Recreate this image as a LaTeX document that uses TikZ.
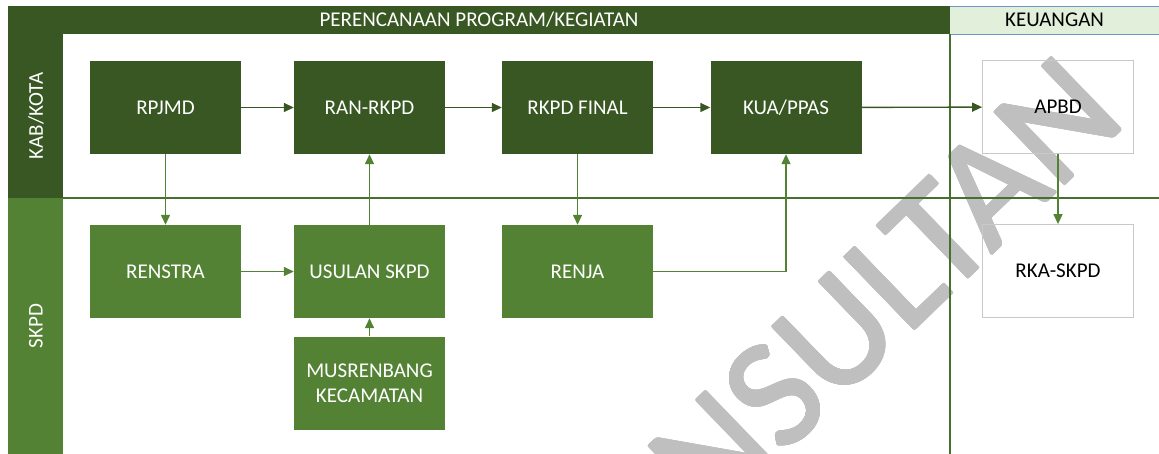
\documentclass[tikz,border=0pt]{standalone}
\usepackage{fontspec}
\setmainfont{Carlito}
\usepackage[copies]{contour}
\contourlength{1.1pt}
\contournumber{24}
\usetikzlibrary{arrows.meta}
\definecolor{dkgreen}{HTML}{385723}
\definecolor{mdgreen}{HTML}{548235}
\definecolor{ltgreen}{HTML}{E2EFDA}
\definecolor{wmgray}{HTML}{BFBFBF}
\definecolor{lanegreen}{HTML}{47702E}
\definecolor{hdrblue}{HTML}{6A96C8}
\definecolor{boxgray}{HTML}{C9C9C9}
\tikzset{
  txt/.style={font=\fontsize{21}{25}\selectfont},
  procbox/.style={txt, minimum width=151pt, minimum height=93pt, inner sep=0pt, align=center, text=white},
  darkbox/.style={procbox, fill=dkgreen},
  midbox/.style={procbox, fill=mdgreen},
  whitebox/.style={procbox, draw=boxgray, line width=0.8pt, text=black},
  arrtop/.style={draw=dkgreen, line width=1.4pt, -{Triangle[length=10pt,width=9pt]}},
  arrmid/.style={draw=mdgreen, line width=1.4pt, -{Triangle[length=10pt,width=9pt]}},
  laneline/.style={draw=lanegreen, line width=1.3pt},
}
\begin{document}
\begin{tikzpicture}[x=1pt,y=-1pt]
\useasboundingbox (0,0) rectangle (1159,454);
% watermark
\begin{scope}
\clip (0,0) rectangle (1159,454);
\node[rotate=44, text=wmgray, font=\fontsize{156}{156}\selectfont, inner sep=0pt] (wm) at (822,350) {\contour{wmgray}{KONSULTAN}};
\end{scope}
% header
\fill[dkgreen] (8,6) rectangle (950,34);
\fill[ltgreen] (950,6) rectangle (1159,34);
\draw[hdrblue, line width=0.6pt] (950,6) -- (1159,6);
\draw[hdrblue, line width=0.9pt] (950,34) -- (1159,34);
\node[txt, text=white] (hdr1) at (479,20) {PERENCANAAN PROGRAM/KEGIATAN};
\node[txt, text=black] (hdr2) at (1054.5,20) {KEUANGAN};
% lane labels
\fill[dkgreen] (8,34) rectangle (63,198);
\fill[mdgreen] (8,198) rectangle (63,454);
\node[txt, text=white, rotate=90] (lane1) at (36,116) {KAB/KOTA};
\node[txt, text=white, rotate=90] (lane2) at (36,326) {SKPD};
% lane lines
\draw[laneline] (63,198) -- (1159,198);
\draw[laneline] (950,34) -- (950,454);
% boxes
\node[darkbox] (rpjmd) at (165.5,107.5) {RPJMD};
\node[darkbox] (ran) at (369.5,107.5) {RAN-RKPD};
\node[darkbox] (rkpd) at (577.5,107.5) {RKPD FINAL};
\node[darkbox] (kua) at (786,107.5) {KUA/PPAS};
\node[whitebox] (apbd) at (1058,107) {APBD};
\node[midbox] (renstra) at (165.5,271.5) {RENSTRA};
\node[midbox] (usulan) at (369.5,271.5) {USULAN SKPD};
\node[midbox] (renja) at (577.5,271.5) {RENJA};
\node[whitebox] (rka) at (1058,271) {RKA-SKPD};
\node[midbox] (musren) at (369.5,383) {MUSRENBANG\\KECAMATAN};
% connectors
\draw[arrtop] (rpjmd) -- (ran);
\draw[arrtop] (ran) -- (rkpd);
\draw[arrtop] (rkpd) -- (kua);
\draw[arrtop] (kua) -- (apbd);
\draw[arrmid] (rpjmd) -- (renstra);
\draw[arrmid] (renstra) -- (usulan);
\draw[arrmid] (usulan) -- (ran);
\draw[arrmid] (musren) -- (usulan);
\draw[arrmid] (rkpd) -- (renja);
\draw[arrmid] (renja.east) -| (kua.south);
\draw[arrmid] (apbd) -- (rka);
\end{tikzpicture}
\end{document}
